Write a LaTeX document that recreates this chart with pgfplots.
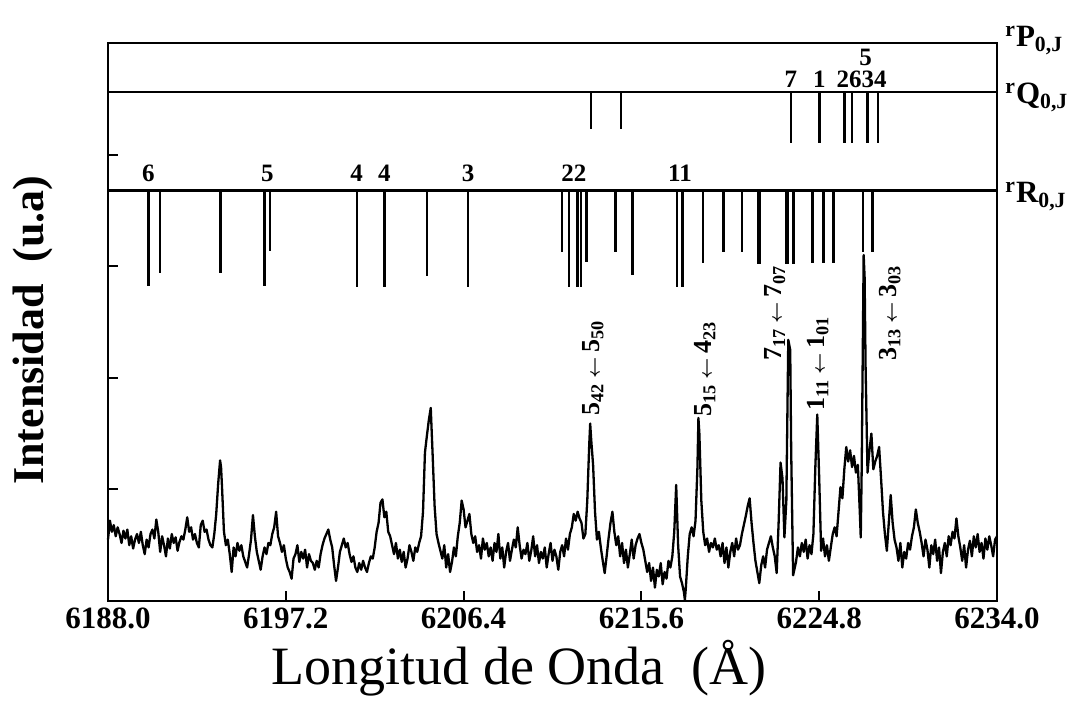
\documentclass[border=0pt]{standalone}
\usepackage{fontspec}
\setmainfont{Liberation Serif}
\usepackage{pgfplots}
\pgfplotsset{compat=1.18}
\begin{document}
\begin{tikzpicture}
\useasboundingbox (-54pt,-54.5pt) rectangle (483.5pt,300.5pt);
\begin{axis}[
 at={(0,0)}, anchor=south west, scale only axis, width=444.5pt, height=279pt,
 xmin=6188, xmax=6234, ymin=0, ymax=5,
 xtick={6188,6197.2,6206.4,6215.6,6224.8,6234},
 xticklabels={6188.0,6197.2,6206.4,6215.6,6224.8,6234.0},
 ytick={1,2,3,4}, yticklabels={},
 xtick pos=bottom, ytick pos=left, tick align=inside,
 major tick length=5pt,
 tick style={line width=1pt, black},
 axis line style={line width=1.3pt},
 ticklabel style={font=\fontsize{15.5}{16}\selectfont\bfseries},
 xlabel={Longitud de Onda\ \ (Å)},
 xlabel style={at={(axis description cs:0.4623,0)}, anchor=base, yshift=-42pt, font=\fontsize{27}{30}\selectfont},
 ylabel={Intensidad\ \ (u.a)},
 ylabel style={at={(axis description cs:-0.0844,0.4857)}, anchor=center, font=\fontsize{22}{24}\selectfont\bfseries},
 clip=false,
 unbounded coords=jump,
]
% series lines rQ and rR
\addplot[line width=1.3pt] coordinates {(6188,4.56) (6234,4.56)};
\addplot[line width=1.3pt] coordinates {(6188,3.68) (6234,3.68)};
% rQ sticks
\addplot[line width=1.2pt] coordinates {
(6212.98,4.56) (6212.98,4.23) (6212.98,nan)
(6214.54,4.56) (6214.54,4.23) (6214.54,nan)
(6223.33,4.56) (6223.33,4.10) (6223.33,nan)
(6224.81,4.56) (6224.81,4.10) (6224.81,nan)
(6226.10,4.56) (6226.10,4.10) (6226.10,nan)
(6226.51,4.56) (6226.51,4.10) (6226.51,nan)
(6227.29,4.56) (6227.29,4.10) (6227.29,nan)
(6227.83,4.56) (6227.83,4.10)
};
% rR sticks
\addplot[line width=1.2pt] coordinates {
(6190.09,3.68) (6190.09,2.82) (6190.09,nan)
(6190.69,3.68) (6190.69,2.94) (6190.69,nan)
(6193.83,3.68) (6193.83,2.94) (6193.83,nan)
(6196.09,3.68) (6196.09,2.82) (6196.09,nan)
(6196.38,3.68) (6196.38,3.14) (6196.38,nan)
(6200.87,3.68) (6200.87,2.81) (6200.87,nan)
(6202.30,3.68) (6202.30,2.81) (6202.30,nan)
(6204.51,3.68) (6204.51,2.91) (6204.51,nan)
(6206.64,3.68) (6206.64,2.81) (6206.64,nan)
(6211.48,3.68) (6211.48,3.13) (6211.48,nan)
(6211.85,3.68) (6211.85,2.81) (6211.85,nan)
(6212.30,3.68) (6212.30,2.81) (6212.30,nan)
(6212.46,3.68) (6212.46,2.81) (6212.46,nan)
(6212.75,3.68) (6212.75,3.04) (6212.75,nan)
(6214.25,3.68) (6214.25,3.13) (6214.25,nan)
(6215.13,3.68) (6215.13,2.92) (6215.13,nan)
(6217.43,3.68) (6217.43,2.81) (6217.43,nan)
(6217.72,3.68) (6217.72,2.81) (6217.72,nan)
(6218.79,3.68) (6218.79,3.03) (6218.79,nan)
(6219.84,3.68) (6219.84,3.13) (6219.84,nan)
(6220.79,3.68) (6220.79,3.13) (6220.79,nan)
(6221.65,3.68) (6221.65,3.02) (6221.65,nan)
(6221.72,3.68) (6221.72,3.02) (6221.72,nan)
(6223.07,3.68) (6223.07,3.02) (6223.07,nan)
(6223.20,3.68) (6223.20,3.02) (6223.20,nan)
(6223.46,3.68) (6223.46,3.02) (6223.46,nan)
(6224.46,3.68) (6224.46,3.03) (6224.46,nan)
(6225.03,3.68) (6225.03,3.03) (6225.03,nan)
(6225.53,3.68) (6225.53,3.03) (6225.53,nan)
(6227.08,3.68) (6227.08,3.13) (6227.08,nan)
(6227.55,3.68) (6227.55,3.13)
};
% spectrum
\addplot[line width=1.15pt, line join=round] table {
x y
6188.0 0.55
6188.1 0.72
6188.2 0.62
6188.3 0.68
6188.4 0.58
6188.5 0.66
6188.6 0.60
6188.7 0.52
6188.8 0.63
6188.9 0.56
6189.0 0.64
6189.1 0.50
6189.2 0.58
6189.3 0.47
6189.4 0.55
6189.5 0.60
6189.6 0.52
6189.7 0.62
6189.8 0.50
6189.9 0.42
6190.0 0.55
6190.1 0.48
6190.2 0.60
6190.3 0.64
6190.4 0.56
6190.5 0.73
6190.6 0.62
6190.7 0.44
6190.8 0.58
6190.9 0.50
6191.0 0.40
6191.1 0.56
6191.2 0.47
6191.3 0.60
6191.4 0.52
6191.5 0.57
6191.6 0.45
6191.7 0.53
6191.8 0.58
6191.9 0.55
6192.0 0.64
6192.1 0.75
6192.2 0.62
6192.3 0.66
6192.4 0.55
6192.5 0.60
6192.6 0.52
6192.7 0.48
6192.8 0.68
6192.9 0.72
6193.0 0.62
6193.1 0.64
6193.2 0.55
6193.3 0.50
6193.4 0.48
6193.5 0.60
6193.6 0.78
6193.7 1.05
6193.8 1.26
6193.85 1.20
6193.9 1.02
6194.0 0.62
6194.1 0.50
6194.2 0.55
6194.3 0.42
6194.4 0.26
6194.5 0.48
6194.6 0.40
6194.7 0.52
6194.8 0.45
6194.9 0.50
6195.0 0.40
6195.1 0.35
6195.2 0.30
6195.3 0.42
6195.4 0.55
6195.5 0.77
6195.6 0.58
6195.7 0.44
6195.8 0.36
6195.9 0.28
6196.0 0.40
6196.1 0.48
6196.2 0.42
6196.3 0.52
6196.4 0.50
6196.5 0.60
6196.6 0.66
6196.7 0.80
6196.8 0.58
6196.9 0.52
6197.0 0.44
6197.1 0.50
6197.2 0.38
6197.3 0.30
6197.4 0.26
6197.5 0.20
6197.6 0.38
6197.7 0.42
6197.8 0.50
6197.9 0.35
6198.0 0.44
6198.1 0.38
6198.2 0.46
6198.3 0.30
6198.4 0.42
6198.5 0.36
6198.6 0.34
6198.7 0.28
6198.8 0.36
6198.9 0.30
6199.0 0.42
6199.1 0.50
6199.2 0.56
6199.3 0.60
6199.4 0.64
6199.5 0.55
6199.6 0.48
6199.7 0.32
6199.8 0.18
6199.9 0.30
6200.0 0.44
6200.1 0.50
6200.2 0.56
6200.3 0.48
6200.4 0.52
6200.5 0.42
6200.6 0.35
6200.7 0.40
6200.8 0.30
6200.9 0.26
6201.0 0.34
6201.1 0.28
6201.2 0.36
6201.3 0.30
6201.4 0.26
6201.5 0.34
6201.6 0.40
6201.7 0.38
6201.8 0.48
6201.9 0.62
6202.0 0.70
6202.1 0.88
6202.2 0.91
6202.3 0.75
6202.4 0.80
6202.5 0.62
6202.6 0.58
6202.7 0.50
6202.8 0.42
6202.9 0.52
6203.0 0.38
6203.1 0.46
6203.2 0.35
6203.3 0.44
6203.4 0.30
6203.5 0.38
6203.6 0.50
6203.7 0.44
6203.8 0.36
6203.9 0.48
6204.0 0.44
6204.1 0.52
6204.2 0.58
6204.3 0.80
6204.4 1.33
6204.5 1.48
6204.6 1.62
6204.7 1.73
6204.8 1.30
6204.9 0.85
6205.0 0.60
6205.1 0.52
6205.2 0.45
6205.3 0.38
6205.4 0.50
6205.5 0.30
6205.6 0.42
6205.7 0.26
6205.8 0.35
6205.9 0.48
6206.0 0.40
6206.1 0.58
6206.2 0.70
6206.3 0.90
6206.4 0.82
6206.5 0.66
6206.6 0.72
6206.7 0.78
6206.8 0.60
6206.9 0.52
6207.0 0.58
6207.1 0.44
6207.2 0.50
6207.3 0.38
6207.4 0.56
6207.5 0.46
6207.6 0.52
6207.7 0.40
6207.8 0.48
6207.9 0.36
6208.0 0.52
6208.1 0.44
6208.2 0.60
6208.3 0.38
6208.4 0.48
6208.5 0.30
6208.6 0.44
6208.7 0.52
6208.8 0.36
6208.9 0.46
6209.0 0.55
6209.1 0.48
6209.2 0.66
6209.3 0.50
6209.4 0.38
6209.5 0.46
6209.6 0.42
6209.7 0.52
6209.8 0.36
6209.9 0.45
6210.0 0.58
6210.1 0.40
6210.2 0.50
6210.3 0.34
6210.4 0.44
6210.5 0.38
6210.6 0.48
6210.7 0.30
6210.8 0.42
6210.9 0.52
6211.0 0.36
6211.1 0.46
6211.2 0.40
6211.3 0.28
6211.4 0.44
6211.5 0.50
6211.6 0.40
6211.7 0.56
6211.8 0.46
6211.9 0.60
6212.0 0.66
6212.1 0.78
6212.2 0.72
6212.3 0.80
6212.4 0.74
6212.5 0.70
6212.6 0.56
6212.7 0.60
6212.8 0.90
6212.9 1.40
6212.95 1.59
6213.0 1.45
6213.1 1.22
6213.2 0.80
6213.3 0.55
6213.4 0.62
6213.5 0.48
6213.6 0.36
6213.7 0.25
6213.8 0.40
6213.9 0.56
6214.0 0.70
6214.1 0.80
6214.2 0.62
6214.3 0.50
6214.4 0.58
6214.5 0.40
6214.6 0.52
6214.7 0.34
6214.8 0.46
6214.9 0.30
6215.0 0.42
6215.1 0.55
6215.2 0.38
6215.3 0.50
6215.4 0.56
6215.5 0.60
6215.6 0.52
6215.7 0.46
6215.8 0.36
6215.9 0.26
6216.0 0.34
6216.1 0.18
6216.2 0.30
6216.3 0.12
6216.4 0.28
6216.5 0.22
6216.6 0.34
6216.7 0.15
6216.8 0.26
6216.9 0.20
6217.0 0.36
6217.1 0.30
6217.2 0.40
6217.3 0.62
6217.4 1.04
6217.5 0.50
6217.6 0.22
6217.7 0.16
6217.8 0.08
6217.85 0.01
6217.9 0.12
6218.0 0.40
6218.1 0.60
6218.2 0.66
6218.3 0.58
6218.4 0.72
6218.5 1.20
6218.55 1.64
6218.6 1.50
6218.7 0.90
6218.8 0.62
6218.9 0.50
6219.0 0.56
6219.1 0.44
6219.2 0.52
6219.3 0.48
6219.4 0.56
6219.5 0.46
6219.6 0.50
6219.7 0.40
6219.8 0.52
6219.9 0.34
6220.0 0.48
6220.1 0.30
6220.2 0.44
6220.3 0.52
6220.4 0.40
6220.5 0.56
6220.6 0.46
6220.7 0.50
6220.8 0.60
6220.9 0.68
6221.0 0.76
6221.1 0.85
6221.2 0.92
6221.3 0.70
6221.4 0.52
6221.5 0.36
6221.6 0.26
6221.7 0.16
6221.8 0.32
6221.9 0.40
6222.0 0.30
6222.1 0.46
6222.2 0.52
6222.3 0.58
6222.4 0.48
6222.5 0.40
6222.6 0.25
6222.7 0.70
6222.8 1.24
6222.9 1.10
6223.0 0.57
6223.1 0.90
6223.2 2.34
6223.3 2.25
6223.35 1.35
6223.45 0.23
6223.6 0.35
6223.7 0.48
6223.8 0.40
6223.9 0.52
6224.0 0.44
6224.1 0.55
6224.2 0.38
6224.3 0.50
6224.4 0.42
6224.5 0.60
6224.6 1.20
6224.7 1.67
6224.8 1.10
6224.9 0.45
6225.0 0.56
6225.1 0.40
6225.2 0.50
6225.3 0.36
6225.4 0.48
6225.5 0.60
6225.6 0.66
6225.7 0.58
6225.8 0.80
6225.9 1.02
6226.0 0.92
6226.1 1.18
6226.2 1.38
6226.3 1.25
6226.4 1.35
6226.5 1.20
6226.6 1.30
6226.7 1.15
6226.8 1.22
6226.9 0.80
6226.95 0.57
6227.0 1.20
6227.1 3.10
6227.15 2.90
6227.2 2.10
6227.3 1.15
6227.4 1.35
6227.5 1.50
6227.6 1.18
6227.7 1.25
6227.8 1.30
6227.9 1.38
6228.0 1.10
6228.1 0.80
6228.2 0.60
6228.3 0.45
6228.4 0.70
6228.5 0.95
6228.6 0.70
6228.7 0.55
6228.8 0.48
6228.9 0.36
6229.0 0.52
6229.1 0.30
6229.2 0.44
6229.3 0.38
6229.4 0.52
6229.5 0.46
6229.6 0.58
6229.7 0.66
6229.8 0.82
6229.9 0.70
6230.0 0.62
6230.1 0.52
6230.2 0.40
6230.3 0.55
6230.4 0.46
6230.5 0.30
6230.6 0.50
6230.7 0.42
6230.8 0.55
6230.9 0.36
6231.0 0.48
6231.1 0.25
6231.2 0.44
6231.3 0.52
6231.4 0.40
6231.5 0.58
6231.6 0.50
6231.7 0.62
6231.8 0.56
6231.9 0.74
6232.0 0.58
6232.1 0.48
6232.2 0.36
6232.3 0.50
6232.4 0.30
6232.5 0.46
6232.6 0.54
6232.7 0.40
6232.8 0.58
6232.9 0.48
6233.0 0.60
6233.1 0.44
6233.2 0.52
6233.3 0.38
6233.4 0.56
6233.5 0.46
6233.6 0.58
6233.7 0.50
6233.8 0.40
6233.9 0.55
6234.0 0.58
};
% stick labels
\begin{scope}[every node/.style={anchor=base, inner sep=0pt, font=\fontsize{12.5}{12.5}\selectfont\bfseries}]
\node at (axis cs:6190.09,3.755) {6};
\node at (axis cs:6196.25,3.755) {5};
\node at (axis cs:6200.87,3.755) {4};
\node at (axis cs:6202.30,3.755) {4};
\node at (axis cs:6206.64,3.755) {3};
\node at (axis cs:6212.1,3.755) {22};
\node at (axis cs:6217.6,3.755) {11};
\node at (axis cs:6223.33,4.60) {7};
\node at (axis cs:6224.81,4.60) {1};
\node at (axis cs:6226.99,4.60) {2634};
\node at (axis cs:6227.2,4.80) {5};
\end{scope}
% transition labels
\begin{scope}[every node/.style={rotate=90, inner sep=0pt, font=\fontsize{13}{13}\selectfont\bfseries\boldmath}]
\node at (axis cs:6213.1,2.09) {5\textsubscript{42}$\,{\scriptstyle\leftarrow}\,$5\textsubscript{50}};
\node at (axis cs:6218.89,2.08) {5\textsubscript{15}$\,{\scriptstyle\leftarrow}\,$4\textsubscript{23}};
\node at (axis cs:6222.51,2.58) {7\textsubscript{17}$\,{\scriptstyle\leftarrow}\,$7\textsubscript{07}};
\node at (axis cs:6224.74,2.13) {1\textsubscript{11}$\,{\scriptstyle\leftarrow}\,$1\textsubscript{01}};
\node at (axis cs:6228.46,2.58) {3\textsubscript{13}$\,{\scriptstyle\leftarrow}\,$3\textsubscript{03}};
\end{scope}
% branch labels
\begin{scope}[every node/.style={anchor=base west, inner sep=0pt, font=\fontsize{15.5}{15.5}\selectfont\bfseries}]
\node at (axis description cs:1.009,0.993) {\textsuperscript{r}P\textsubscript{0,J}};
\node at (axis description cs:1.009,0.8907) {\textsuperscript{r}Q\textsubscript{0,J}};
\node at (axis description cs:1.009,0.7133) {\textsuperscript{r}R\textsubscript{0,J}};
\end{scope}
\end{axis}
\end{tikzpicture}
\end{document}
